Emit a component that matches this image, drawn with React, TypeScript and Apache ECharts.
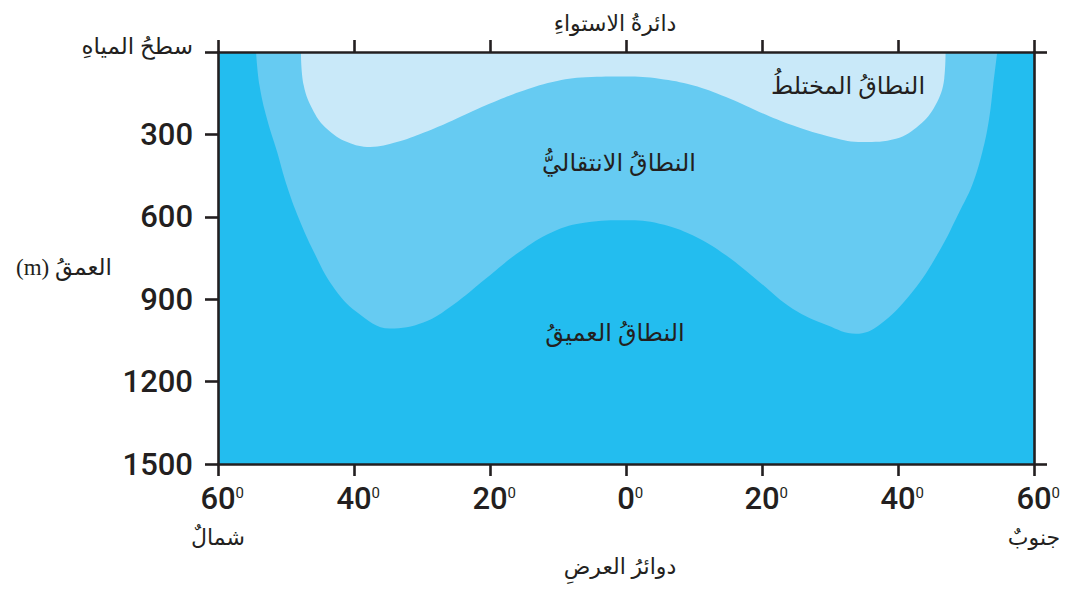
import React, { useEffect, useRef } from "react";
import * as echarts from "echarts";

// Latitude: negative = North, positive = South; depth in metres
const latTicks = [-60, -40, -20, 0, 20, 40, 60];
const depthTicks = [0, 300, 600, 900, 1200, 1500];

// boundary between transitional zone and deep zone
const transitionBoundary: [number, number][] = [
  [-54.4, 0], [-53.9, 121], [-52.8, 243], [-51.3, 364], [-49.9, 485], [-48.1, 607],
  [-45.9, 728], [-43.2, 850], [-39.6, 947], [-34.7, 1007], [-29.8, 985],
  [-25.5, 922], [-20.6, 825], [-15.7, 728], [-10.8, 655], [-5.9, 621],
  [0, 613], [4.9, 625], [9.8, 667], [14.7, 740], [19.6, 837], [24.5, 935],
  [29.6, 995], [33.8, 1026], [37.2, 995], [42.1, 874], [46.0, 728],
  [49.0, 583], [50.9, 485], [52.4, 364], [53.4, 243], [54.0, 121], [54.6, 0],
];

// boundary between mixed layer and transitional zone
const mixedBoundary: [number, number][] = [
  [-47.8, 0], [-47.4, 121], [-45.9, 218], [-44.0, 279], [-41.0, 328],
  [-37.6, 346], [-33.7, 328], [-29.8, 294], [-25.5, 249], [-20.6, 194],
  [-15.7, 146], [-10.8, 109], [-5.9, 92], [0, 89], [4.9, 97], [9.8, 121],
  [14.7, 164], [19.6, 218], [24.5, 267], [30.4, 311], [34.8, 328],
  [39.7, 316], [43.1, 267], [45.5, 194], [46.8, 97], [47.0, 0],
];

const zoneLabels = {
  mixed: "النطاقُ المختلطُ",
  transition: "النطاقُ الانتقاليُّ",
  deep: "النطاقُ العميقُ",
};
const surfaceLabel = "سطحُ المياهِ";
const equatorLabel = "دائرةُ الاستواءِ";
const latAxisName = "دوائرُ العرضِ";
const depthAxisName = "(m) العمقُ";
const northLabel = "شمالٌ";
const southLabel = "جنوبٌ";

const DEEP = "#23BDEF";
const MID = "#66CBF2";
const LIGHT = "#C9E9F9";
const INK = "#231F20";
const AR_FONT = "'Liberation Serif', 'DejaVu Sans', serif";
const NUM_FONT = "Roboto, 'Liberation Sans', sans-serif";

export default function App() {
  const ref = useRef<HTMLDivElement>(null);
  useEffect(() => {
    if (!ref.current) return;
    const chart = echarts.init(ref.current, null, { renderer: "svg" });
    const axisLine = { show: true, onZero: false, lineStyle: { color: INK, width: 2.6 } };
    const tick = (len: number) => ({ show: true, length: len, lineStyle: { color: INK, width: 2.6 } });
    const arText = (text: string, x: number, y: number, size = 22) => ({
      type: "text",
      x,
      y,
      style: {
        text,
        fill: INK,
        font: `${size}px ${AR_FONT}`,
        textAlign: "center",
        textVerticalAlign: "middle",
      },
      z: 20,
    });
    chart.setOption({
      animation: false,
      grid: {
        left: 218,
        right: 34,
        top: 52,
        bottom: 128,
        show: true,
        backgroundColor: DEEP,
        borderWidth: 0,
      },
      xAxis: [
        {
          type: "value",
          position: "bottom",
          min: -60,
          max: 60,
          interval: 20,
          z: 10,
          axisLine,
          axisTick: tick(12),
          splitLine: { show: false },
          axisLabel: {
            margin: 16,
            formatter: (v: number) => {
              let s = `{h|0}{n|${Math.abs(v)}}{s|0}`;
              if (v === latTicks[0]) s += `\n{d|${northLabel}}`;
              if (v === latTicks[latTicks.length - 1]) s += `\n{d|${southLabel}}`;
              return s;
            },
            rich: {
              n: { fontFamily: NUM_FONT, fontSize: 31, fontWeight: 500, color: INK, lineHeight: 36 },
              s: { fontFamily: NUM_FONT, fontSize: 15, color: INK, verticalAlign: "top", padding: [5, 0, 0, 0] },
              h: { fontFamily: NUM_FONT, fontSize: 15, color: "transparent", verticalAlign: "top", padding: [5, 0, 0, 0] },
              d: { fontFamily: AR_FONT, fontSize: 22, color: INK, lineHeight: 42 },
            },
          },
        },
        {
          type: "value",
          position: "top",
          min: -60,
          max: 60,
          interval: 20,
          z: 10,
          axisLine,
          axisTick: tick(12),
          splitLine: { show: false },
          axisLabel: { show: false },
        },
      ],
      yAxis: [
        {
          type: "value",
          position: "left",
          inverse: true,
          min: depthTicks[0],
          max: depthTicks[depthTicks.length - 1],
          interval: 300,
          z: 10,
          axisLine,
          axisTick: tick(13),
          splitLine: { show: false },
          axisLabel: {
            margin: 25,
            formatter: (v: number) => (v === 0 ? `{t|${surfaceLabel}}` : `{v|${v}}`),
            rich: {
              v: { fontFamily: NUM_FONT, fontSize: 31, fontWeight: 500, color: INK },
              t: { fontFamily: AR_FONT, fontSize: 23, color: INK, padding: [0, 0, 12, 0] },
            },
          },
        },
        {
          type: "value",
          position: "right",
          inverse: true,
          min: 0,
          max: 1500,
          interval: 1500,
          z: 10,
          axisLine,
          axisTick: tick(13),
          splitLine: { show: false },
          axisLabel: { show: false },
        },
      ],
      series: [
        {
          name: "transition",
          type: "line",
          xAxisIndex: 0,
          yAxisIndex: 0,
          data: transitionBoundary,
          smooth: 0.4,
          symbol: "none",
          lineStyle: { width: 0 },
          areaStyle: { color: MID, opacity: 1 },
          z: 2,
        },
        {
          name: "mixed",
          type: "line",
          xAxisIndex: 0,
          yAxisIndex: 0,
          data: mixedBoundary,
          smooth: 0.4,
          symbol: "none",
          lineStyle: { width: 0 },
          areaStyle: { color: LIGHT, opacity: 1 },
          z: 3,
        },
      ],
      graphic: [
        arText(zoneLabels.mixed, 848, 86, 24),
        arText(zoneLabels.transition, 619, 163, 24),
        arText(zoneLabels.deep, 615, 333, 24),
        arText(equatorLabel, 615, 23, 22),
        arText(latAxisName, 620, 566, 22),
        {
          type: "text",
          x: 112,
          y: 267,
          style: {
            text: depthAxisName,
            fill: INK,
            font: `23px ${AR_FONT}`,
            textAlign: "right",
            textVerticalAlign: "middle",
          },
        },
      ],
    });
    return () => chart.dispose();
  }, []);
  return (
    <div
      ref={ref}
      style={{ position: "fixed", left: 0, top: 0, width: 1068, height: 592, background: "#fff" }}
    />
  );
}
